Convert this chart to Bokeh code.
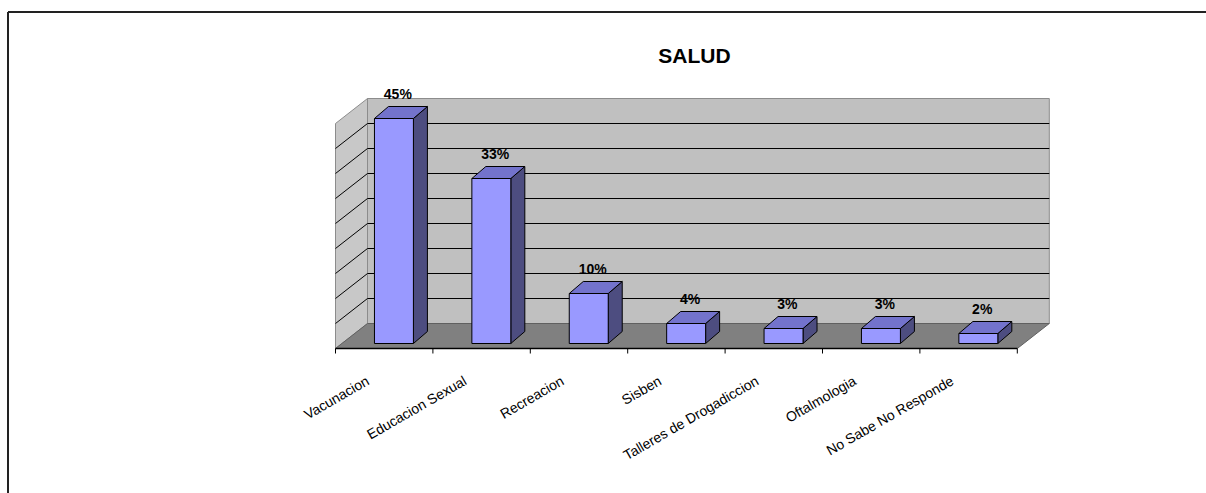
import numpy as np
from bokeh.plotting import figure
from bokeh.models import Range1d
from bokeh.core.properties import value
from bokeh.embed import file_html
from bokeh.resources import INLINE

# ---- data ----
title_text = "SALUD"
categories = ["Vacunacion", "Educacion Sexual", "Recreacion", "Sisben",
              "Talleres de Drogadiccion", "Oftalmologia", "No Sabe No Responde"]
values = [45, 33, 10, 4, 3, 3, 2]
value_labels = ["45%", "33%", "10%", "4%", "3%", "3%", "2%"]
grid_values = [5, 10, 15, 20, 25, 30, 35, 40]
axis_max = 45

# ---- 3D geometry (data units: x = category slot, y = percent) ----
OFF = 0        # offset of the figure in the picture
PX_X = 97.4    # px per category slot
PX_Y = 5.0     # px per percent
X_FRONT = 335  # picture x of floor front-left
Y_FRONT = 348  # picture y of floor front edge
W, H = 1206, 493
DX, DY = 32 / PX_X, 25 / PX_Y          # floor depth
BX0, BW = 0.40, 0.40                    # bar front-left inside slot, width
BY0 = 1.0                               # bar front bottom
BDX, BDY = 14 / PX_X, 2.4               # bar depth

n = len(categories)
x0 = (OFF - X_FRONT) / PX_X
x1 = x0 + W / PX_X
y1 = (Y_FRONT - OFF) / PX_Y
y0 = y1 - H / PX_Y

p = figure(width=W, height=H, x_range=Range1d(x0, x1), y_range=Range1d(y0, y1),
           x_axis_type=None, y_axis_type=None, toolbar_location=None,
           output_backend="svg", min_border=0, outline_line_color=None,
           background_fill_color="white", border_fill_color="white")
p.grid.visible = False

# walls and floor
p.patch([DX, n + DX, n + DX, DX], [DY, DY, axis_max + DY, axis_max + DY],
        fill_color="#C0C0C0", line_color="#8C8C8C", line_width=1)
p.patch([0, DX, DX, 0], [0, DY, axis_max + DY, axis_max],
        fill_color="#C8C8C8", line_color="#8C8C8C", line_width=1)
p.patch([0, n, n + DX, DX], [0, 0, DY, DY],
        fill_color="#808080", line_color="#606060", line_width=1)

# gridlines
gv = np.array(grid_values, dtype=float)
p.segment(x0=[DX] * len(gv), y0=gv + DY, x1=[n + DX] * len(gv), y1=gv + DY,
          line_color="black", line_width=1)
p.segment(x0=[0] * len(gv), y0=gv, x1=[DX] * len(gv), y1=gv + DY,
          line_color="black", line_width=1)

# front axis line and ticks
p.segment(x0=[0], y0=[0], x1=[n], y1=[0], line_color="black", line_width=1.5)
ticks = np.arange(n + 1)
p.segment(x0=ticks, y0=[0] * len(ticks), x1=ticks, y1=[-1] * len(ticks),
          line_color="black", line_width=1)

# bars
fx, fy, tx, ty, sx, sy = [], [], [], [], [], []
for i, v in enumerate(values):
    xl = i + BX0
    xr = xl + BW
    yb = BY0
    yt = BY0 + v
    fx.append([xl, xr, xr, xl]); fy.append([yb, yb, yt, yt])
    tx.append([xl, xr, xr + BDX, xl + BDX]); ty.append([yt, yt, yt + BDY, yt + BDY])
    sx.append([xr, xr + BDX, xr + BDX, xr]); sy.append([yb, yb + BDY, yt + BDY, yt])
p.patches(sx, sy, fill_color="#4D4D80", line_color="black", line_width=1)
p.patches(tx, ty, fill_color="#7373CC", line_color="black", line_width=1)
p.patches(fx, fy, fill_color="#9999FF", line_color="black", line_width=1)

# value labels
idx = np.arange(n)
vals = np.array(values, dtype=float)
p.text(x=idx + 0.64, y=vals + BY0 + 4.9, text=value_labels,
       text_font=value("Liberation Sans"), text_font_style="bold",
       text_font_size="14px", text_align="center", text_baseline="middle",
       text_color="black")

# category labels
p.text(x=idx + 0.5 - 0.21, y=[-4.8] * n, text=categories, angle=np.pi / 6,
       text_font=value("Liberation Sans"), text_font_size="14px",
       text_align="right", text_baseline="top", text_color="black")

# title
p.text(x=[(694 - X_FRONT) / PX_X], y=[(Y_FRONT - 55) / PX_Y], text=[title_text],
       text_font=value("Liberation Sans"), text_font_style="bold",
       text_font_size="21px", text_align="center", text_baseline="middle",
       text_color="black")

# chart border (top and left)
yb_top = (Y_FRONT - 11.5) / PX_Y
xb_left = (7.5 - X_FRONT) / PX_X
p.line([xb_left, x1], [yb_top, yb_top], line_color="#222222", line_width=2)
p.line([xb_left, xb_left], [yb_top, y0], line_color="#222222", line_width=2)

open("out.html", "w").write(file_html(p, INLINE))
